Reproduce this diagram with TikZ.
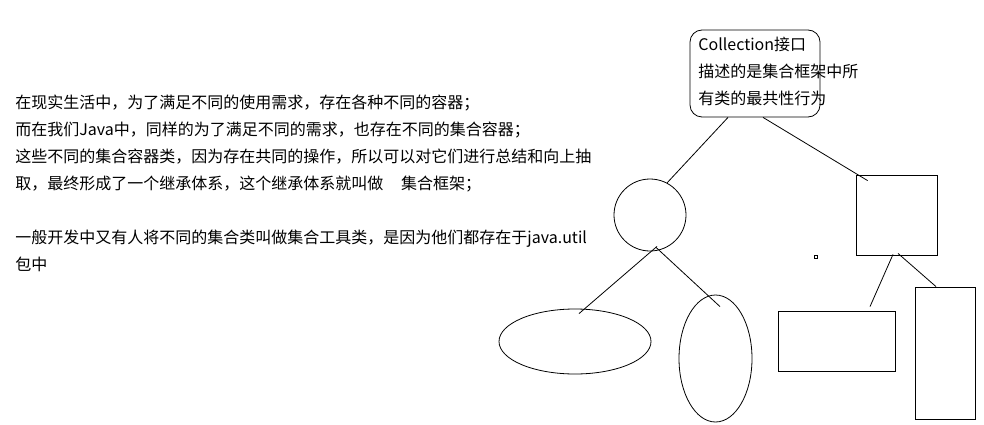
\documentclass[tikz,border=0pt]{standalone}
\usepackage{fontspec}
\setmainfont{Noto Sans CJK SC}
\usetikzlibrary{positioning,shapes.geometric}

\begin{document}
\begin{tikzpicture}[x=1pt,y=-1pt,line width=0.8pt,
  outline/.style={draw,inner sep=0pt},
  note/.style={anchor=north west,inner sep=0pt,align=left,font=\fontsize{16pt}{27pt}\selectfont}]
\useasboundingbox (0,0) rectangle (984,425);

\node (intro)[note] at (15,95){在现实生活中，为了满足不同的使用需求，存在各种不同的容器；\\
而在我们Java中，同样的为了满足不同的需求，也存在不同的集合容器；\\
这些不同的集合容器类，因为存在共同的操作，所以可以对它们进行总结和向上抽\\
取，最终形成了一个继承体系，这个继承体系就叫做\hspace{1.1em}集合框架；\\[27pt]
一般开发中又有人将不同的集合类叫做集合工具类，是因为他们都存在于java.util\\
包中};

\node (iface)[outline,rounded corners=12pt,minimum width=130pt,minimum height=87pt] at (755,73.5){};
\node (ifacetext)[note] at (698,37){Collection接口\\描述的是集合框架中所\\有类的最共性行为};

\node (circ)[outline,circle,minimum size=72pt] at (650,215){};
\node (sq)[outline,minimum width=81pt,minimum height=80pt] at (896.5,215){};

\node (ellA)[outline,ellipse,minimum width=152pt,minimum height=65pt] at (575,341.5){};
\node (ellB)[outline,ellipse,minimum width=73pt,minimum height=127pt] at (715.5,358.5){};
\node (rectA)[outline,minimum width=117pt,minimum height=60pt] at (836.5,341){};
\node (rectB)[outline,minimum width=60pt,minimum height=132pt] at (945,353){};
\node (dot)[outline,line width=0.6pt,minimum size=3pt] at (816,257){};

% draw the connections
\draw ([xshift=-27pt]iface.south) -- (circ.62);
\draw ([xshift=8pt]iface.south) -- ([shift={(12,6)}]sq.north west);
\draw ([shift={(7,-5)}]circ.south) -- ([shift={(4,5)}]ellA.north);
\draw ([shift={(6,-4)}]circ.south) -- ([shift={(4.5,12)}]ellB.north);
\draw ([shift={(-3.5,-1)}]sq.south) -- ([shift={(33.5,-4)}]rectA.north);
\draw ([shift={(1.5,-2)}]sq.south) -- ([shift={(-9,0)}]rectB.north);
\end{tikzpicture}
\end{document}
